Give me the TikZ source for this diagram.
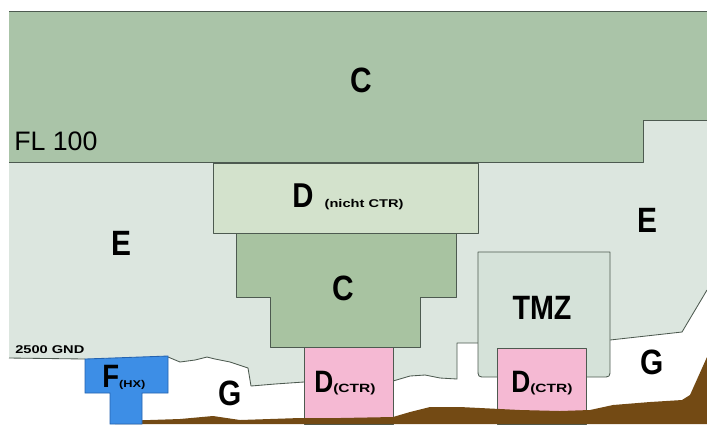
\documentclass[tikz,border=0pt]{standalone}
\usepackage{fontspec}
\setmainfont{Liberation Sans}
\newfontfamily\zonefont[FakeStretch=0.85]{Liberation Sans}
\newfontfamily\widefont[FakeStretch=1.3]{Liberation Sans}
\usepackage{xcolor}
\definecolor{bandc}{HTML}{AAC4A8}
\definecolor{lowc}{HTML}{A8C3A1}
\definecolor{nichtd}{HTML}{D3E2CC}
\definecolor{aire}{HTML}{DCE6DF}
\definecolor{tmzgrey}{HTML}{D5E2D9}
\definecolor{ctrpink}{HTML}{F5B9D3}
\definecolor{hxblue}{HTML}{3D8EE6}
\definecolor{hxedge}{HTML}{2463B0}
\definecolor{ground}{HTML}{734A14}
\definecolor{edge}{HTML}{4D5A50}
\usepackage{tikz}
\usetikzlibrary{positioning}

\begin{document}
\begin{tikzpicture}[
  x=0.025cm, y=-0.025cm,
  zone/.style={draw=edge, line width=0.6pt, line join=round},
  big/.style={inner sep=0pt, anchor=base, font=\zonefont\bfseries\fontsize{25}{25}\selectfont},
  sub/.style={inner sep=0pt, anchor=base west}
]
\useasboundingbox (0,0) rectangle (707,424);
\fill[white] (0,0) rectangle (707,424);

\fill[aire] (9,162) -- (643,162) -- (643,120) -- (707,120) -- (707,290) -- (682,332)
  -- (610,340) -- (478,343) -- (457,343) -- (457,379) -- (440,378) -- (425,375)
  -- (410,376) -- (393,381) -- (304,382) -- (275,384) -- (251,386) -- (248,368)
  -- (230,362) -- (215,359) -- (207,357) -- (195,360) -- (180,362) -- (168,357)
  -- (85,359) -- (9,358) -- cycle;
\draw[zone] (9,358) -- (85,359);
\draw[zone] (168,357) -- (180,362) -- (195,360) -- (207,357) -- (215,359) -- (230,362)
  -- (248,368) -- (251,386) -- (275,384) -- (304,382);
\draw[zone] (393,381) -- (410,376) -- (425,375) -- (440,378) -- (457,379) -- (457,343) -- (478,343);
\draw[zone] (610,340) -- (682,332) -- (707,290);

\fill[bandc] (9,11) -- (707,11) -- (707,120) -- (643,120) -- (643,162) -- (9,162) -- cycle;
\draw[zone] (9,11) -- (707,11);
\draw[zone] (707,120) -- (643,120) -- (643,162) -- (9,162);

\draw[zone, fill=nichtd] (213,163) rectangle (478,233);
\draw[zone, fill=lowc] (236,233) -- (456,233) -- (456,297) -- (420,297) -- (420,347)
  -- (270,347) -- (270,297) -- (236,297) -- cycle;
\draw[zone, fill=tmzgrey] (478,252) -- (610,252) -- (610,369) .. controls (610,377) .. (602,377)
  -- (486,377) .. controls (478,377) .. (478,369) -- cycle;

\draw[zone, fill=ctrpink] (304,347) rectangle (393,424);
\draw[zone, fill=ctrpink] (497,348) rectangle (586,424);

\fill[ground] (115,424) -- (117,421) -- (150,420) -- (180,419) -- (213,416) -- (240,420)
  -- (270,419) -- (300,418) -- (340,418) -- (393,417) -- (410,412) -- (430,407)
  -- (460,407) -- (480,408) -- (520,410) -- (560,411) -- (590,410) -- (613,405)
  -- (650,402) -- (682,400) -- (690,395) -- (707,357) -- (707,424) -- cycle;

\draw[draw=hxedge, line width=0.6pt, fill=hxblue] (85,359) -- (168,356) -- (168,393) -- (142,393)
  -- (142,424) -- (110,424) -- (110,393) -- (85,393) -- cycle;

\node[big] (ctop) at (361,92) {C};
\node[sub, font=\fontsize{19}{19}\selectfont] (fl) at (14,150) {FL 100};
\node[sub, font=\widefont\bfseries\fontsize{8}{8}\selectfont] (gnd) at (15,353) {2500 GND};
\node[big] (eleft) at (121,255) {E};
\node[big] (eright) at (647,232) {E};
\node[big] (clow) at (343,300) {C};
\node[big, font=\zonefont\bfseries\fontsize{24}{24}\selectfont] (tmz) at (542,319) {TMZ};
\node[big] (gleft) at (230,405) {G};
\node[big] (gright) at (652,374) {G};
\node[sub] (dnicht) at (292,207) {\zonefont\bfseries\fontsize{24.5}{24.5}\selectfont D\hspace{8pt}\widefont\fontsize{8}{8}\selectfont(nicht CTR)};
\node[sub] (dctra) at (314,392) {\zonefont\bfseries\fontsize{22}{22}\selectfont D\widefont\fontsize{8.5}{8.5}\selectfont(CTR)};
\node[sub] (dctrb) at (511,392) {\zonefont\bfseries\fontsize{22}{22}\selectfont D\widefont\fontsize{8.5}{8.5}\selectfont(CTR)};
\node[sub] (fhx) at (102,387) {\zonefont\bfseries\fontsize{23}{23}\selectfont F\widefont\fontsize{7}{7}\selectfont(HX)};

\end{tikzpicture}
\end{document}
